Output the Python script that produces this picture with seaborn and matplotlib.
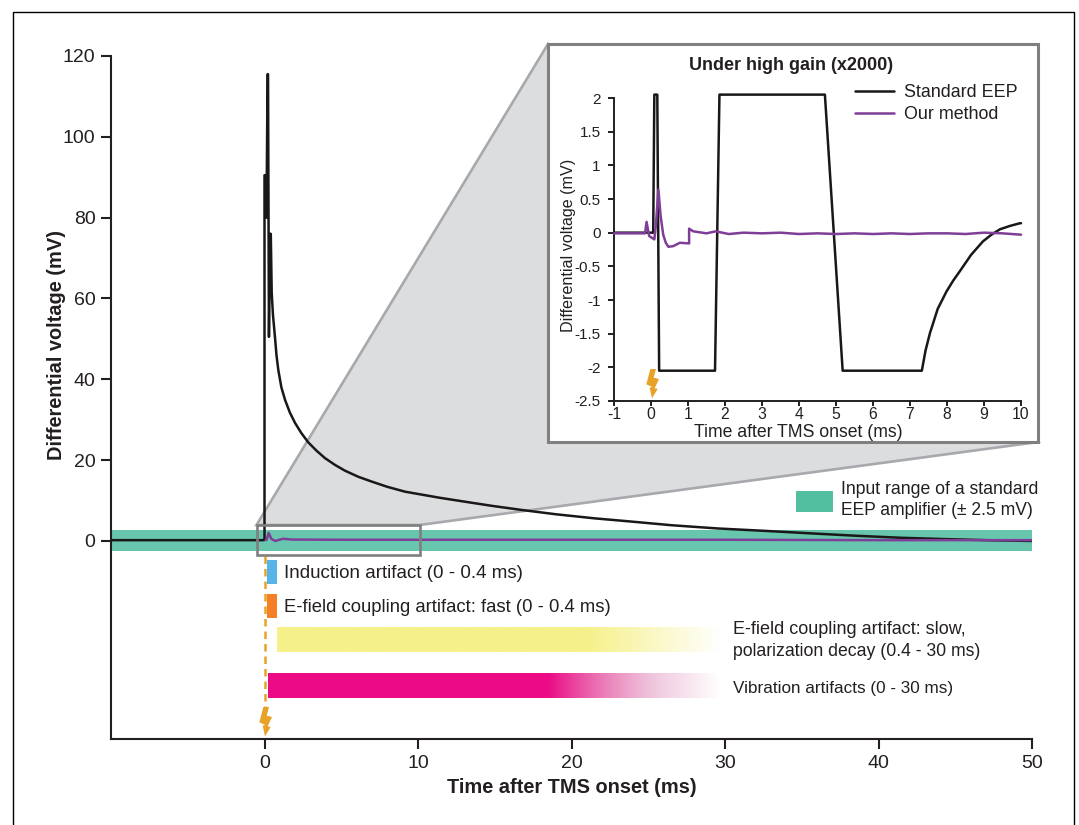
import numpy as np
import matplotlib
matplotlib.use("Agg")
import matplotlib.pyplot as plt
from matplotlib.patches import Polygon, Rectangle
from matplotlib.lines import Line2D
from matplotlib.transforms import Affine2D, IdentityTransform
from matplotlib.colors import to_rgb
import seaborn as sns

# ---- data ----
main_std_t = [-10, -0.05, 0.0, 0.0, 0.1, 0.13, 0.2, 0.23, 0.29, 0.36, 0.41, 0.47, 0.55, 0.68, 0.78, 0.9, 1.1, 1.34,
              1.65, 1.99, 2.4, 2.85, 3.4, 3.94, 4.6, 5.24, 6.1, 6.98, 8, 9.15, 10.2, 11.4, 13, 14.8, 16.7, 19, 21.5,
              23.9, 26.5, 29.5, 32.6, 35.5, 38.5, 41.4, 44, 47, 50]
main_std_v = [0.2, 0.2, 0.3, 90.5, 90.5, 80, 115.5, 115.5, 50.5, 76, 76, 61.4, 56, 50.5, 46, 42.3, 38, 34.9,
              31.8, 29.2, 26.7, 24.4, 22.3, 20.5, 18.8, 17.4, 15.9, 14.7, 13.4, 12.2, 11.5, 10.7, 9.75, 8.7, 7.7, 6.6, 5.6,
              4.8, 3.9, 3.1, 2.5, 1.9, 1.3, 0.8, 0.5, 0.2, 0.0]
main_our_t = [0.08, 0.15, 0.27, 0.45, 0.7, 1.2, 1.8, 5, 10, 20, 30, 40, 50]
main_our_v = [0.2, 0.4, 2.0, 0.5, 0.0, 0.55, 0.35, 0.3, 0.3, 0.3, 0.3, 0.2, 0.2]
amp_range = [-2.5, 2.6]

inset_std_t = [-1, 0.06, 0.09, 0.17, 0.22, 1.73, 1.85, 4.7, 5.18, 7.32, 7.42, 7.54, 7.75, 7.99, 8.17, 8.35, 8.65,
               8.97, 9.2, 9.43, 9.7, 9.97, 10]
inset_std_v = [0, 0, 2.05, 2.05, -2.05, -2.05, 2.05, 2.05, -2.05, -2.05, -1.75, -1.49, -1.13, -0.87, -0.71, -0.57, -0.33,
               -0.13, -0.03, 0.05, 0.1, 0.14, 0.14]
inset_our_t = [-1, -0.16, -0.12, -0.05, 0.09, 0.13, 0.2, 0.26, 0.33, 0.4, 0.47, 0.6, 0.78, 1.03, 1.03, 1.14, 1.5, 1.75,
               2.1, 2.5, 3, 3.5, 4, 4.5, 5, 5.5, 6, 6.5, 7, 7.5, 8, 8.5, 9, 9.5, 10]
inset_our_v = [-0.01, -0.01, 0.16, -0.05, -0.1, 0.1, 0.64, 0.25, -0.03, -0.15, -0.21, -0.2, -0.15, -0.16, 0.06, 0.02,
               -0.01, 0.02, -0.02, 0.0, -0.01, 0.0, -0.02, -0.01, -0.02, -0.01, -0.02, -0.01, -0.02, -0.01, -0.01,
               -0.02, 0.0, -0.01, -0.03]

main_xticks = [0, 10, 20, 30, 40, 50]
main_yticks = [0, 20, 40, 60, 80, 100, 120]
inset_xticks = [-1, 0, 1, 2, 3, 4, 5, 6, 7, 8, 9, 10]
inset_yticks = [-2.5, -2, -1.5, -1, -0.5, 0, 0.5, 1, 1.5, 2]
inset_yticklabels = ["-2.5", "-2", "-1.5", "-1", "-0.5", "0", "0.5", "1", "1.5", "2"]

# solid artifact bars: label, start, end (ms), row top / bottom (mV), colour
solid_bars = [("Induction artifact (0 - 0.4 ms)", 0.16, 0.80, -4.7, -10.6, "#56B4E9"),
              ("E-field coupling artifact: fast (0 - 0.4 ms)", 0.16, 0.80, -13.1, -19.0, "#F47F24")]
# fading bars: start, solid-until, end (ms), row top / bottom (mV), colour, colour while fading
fade_bars = [(0.80, 21.0, 29.7, -21.5, -27.5, "#F6F18A", "#F6F18A"),
             (0.22, 18.5, 29.7, -32.7, -38.85, "#EC0A85", "#D86FA8")]

INK = "#231F20"
PURPLE = "#7F3F98"
ORANGE = "#E8A228"
W, H = 1079, 825

sns.set_theme(style="ticks")
plt.rcParams["font.family"] = ["Liberation Sans", "DejaVu Sans"]
plt.rcParams["axes.unicode_minus"] = False
plt.rcParams["text.color"] = INK

fig = plt.figure(figsize=(W / 100, H / 100), dpi=100)
PX = Affine2D().scale(1, -1).translate(0, H)  # layout helper: top-left pixel coordinates


def box(l, t, r, b):
    return [l / W, 1 - b / H, (r - l) / W, (b - t) / H]


# frame open at the bottom
fig.add_artist(Line2D([12.5, 12.5, 1074, 1074], [825, 11.5, 11.5, 825], transform=PX, color="black", lw=1.0))

ax = fig.add_axes(box(111, 56, 1032, 739))
ax.patch.set_alpha(0)
ax.axhspan(amp_range[0], amp_range[1], color="#68C6AE", lw=0, zorder=1)

ax.add_patch(Polygon([(256.5, 525), (548, 44), (1038, 442), (419.5, 525)], closed=True, transform=PX,
                     facecolor="#DCDDDE", edgecolor="#A7A9AC", lw=1.9, zorder=1.5, clip_on=False))

sns.lineplot(x=main_std_t, y=main_std_v, estimator=None, sort=False, color="#1a1718", linewidth=1.8, ax=ax, zorder=3)
sns.lineplot(x=main_our_t, y=main_our_v, estimator=None, sort=False, color=PURPLE, linewidth=1.8, ax=ax, zorder=4)

ax.add_patch(Rectangle((256.5, 525), 163, 30, transform=PX, fill=False, edgecolor="#808080", lw=1.9, zorder=5,
                       clip_on=False))

for label, x0, x1, y0, y1, c in solid_bars:
    ax.add_patch(Rectangle((x0, y1), x1 - x0, y0 - y1, facecolor=c, lw=0, zorder=2))
for x0, x_solid, x1, y0, y1, c, c2 in fade_bars:
    n = 256
    xs = np.linspace(x0, x1, n)
    alpha = np.clip((x1 - xs) / (x1 - x_solid), 0, 1)
    img = np.ones((1, n, 4))
    mix = np.clip((1 - alpha) * 1.6, 0, 1)[..., None]
    img[0, :, :3] = (1 - mix) * np.array(to_rgb(c)) + mix * np.array(to_rgb(c2))
    img[..., 3] = alpha
    ax.imshow(img, extent=(x0, x1, y1, y0), origin="upper", aspect="auto", zorder=2, interpolation="bilinear")

ax.set_xlim(-10, 50)
ax.set_ylim(-49, 120)
ax.set_xticks(main_xticks)
ax.set_yticks(main_yticks)
ax.tick_params(axis="both", length=7.2, width=1.5, color=INK, labelsize=14, labelcolor=INK, pad=4)
sns.despine(ax=ax)
for s in ("left", "bottom"):
    ax.spines[s].set_linewidth(1.5)
    ax.spines[s].set_color(INK)
ax.set_xlabel("Time after TMS onset (ms)", fontsize=14.4, fontweight="bold", color=INK)
ax.set_ylabel("Differential voltage (mV)", fontsize=14.4, fontweight="bold", color=INK)
ax.xaxis.set_label_coords(572, H - 778, transform=IdentityTransform())
ax.yaxis.set_label_coords(66, H - 345, transform=IdentityTransform())

# TMS onset marker
ax.add_line(Line2D([264.5, 264.5], [556, 707], transform=PX, color=ORANGE, lw=1.8, ls=(0, (3, 2)), zorder=2,
                   clip_on=False))
bolt = np.array([(100, 622), (117, 622), (110, 648), (126, 652), (113, 680), (122, 682), (105, 710), (98, 678),
                 (106, 676), (88, 668)], dtype=float)


def add_bolt(a, cx, top, s=1 / 3):
    pts = (bolt - [105, 622]) * s + [cx, top]
    a.add_patch(Polygon(pts, closed=True, transform=PX, facecolor=ORANGE, edgecolor="none", zorder=6, clip_on=False))


add_bolt(ax, 265, 707)

# annotations
ax.add_patch(Rectangle((796, 491), 37, 21, transform=PX, facecolor="#52C0A0", lw=0, zorder=6, clip_on=False))
NOTES = [(841, 489.5, "Input range of a standard", 12.7), (841, 510.5, "EEP amplifier (± 2.5 mV)", 12.65),
         (284, 574, solid_bars[0][0], 13.5), (284, 607, solid_bars[1][0], 13.3),
         (733, 630, "E-field coupling artifact: slow,", 13.0), (733, 651, "polarization decay (0.4 - 30 ms)", 12.7),
         (733, 688, "Vibration artifacts (0 - 30 ms)", 12.3)]
for x, y, s, fs in NOTES:
    ax.text(x, y, s, transform=PX, fontsize=fs, va="center", ha="left", color=INK, zorder=7, clip_on=False)

# inset panel
fig.add_artist(Rectangle((548, 44), 490, 398, transform=PX, facecolor="white", edgecolor="#808080", lw=2.2, zorder=1))
axi = fig.add_axes(box(614, 98, 1021, 401), zorder=2)
axi.patch.set_alpha(0)
sns.lineplot(x=inset_std_t, y=inset_std_v, estimator=None, sort=False, color="#1a1718", linewidth=1.8, ax=axi,
             label="Standard EEP", zorder=3, clip_on=False)
sns.lineplot(x=inset_our_t, y=inset_our_v, estimator=None, sort=False, color=PURPLE, linewidth=1.8, ax=axi,
             label="Our method", zorder=4, clip_on=False)
axi.set_xlim(-1, 10)
axi.set_ylim(-2.5, 2)
axi.set_xticks(inset_xticks)
axi.set_yticks(inset_yticks)
axi.set_yticklabels(inset_yticklabels)
axi.tick_params(axis="x", length=3.5, width=1.4, color=INK, labelsize=11.3, labelcolor=INK, pad=0.5)
axi.tick_params(axis="y", length=4.5, width=1.4, color=INK, labelsize=11, labelcolor=INK, pad=5)
sns.despine(ax=axi)
for s in ("left", "bottom"):
    axi.spines[s].set_linewidth(1.4)
    axi.spines[s].set_color(INK)
axi.set_xlabel("Time after TMS onset (ms)", fontsize=12.7, color=INK)
axi.set_ylabel("Differential voltage (mV)", fontsize=11.6, color=INK)
axi.xaxis.set_label_coords(798, H - 424, transform=IdentityTransform())
axi.yaxis.set_label_coords(576, H - 245, transform=IdentityTransform())
fig.text(791.5 / W, 1 - 65.5 / H, "Under high gain (x2000)", fontsize=12.95, fontweight="bold", ha="center",
         va="center", color=INK, zorder=5)
leg = axi.legend(loc="upper left", bbox_to_anchor=(855, H - 84), bbox_transform=IdentityTransform(),
                 frameon=False, fontsize=12.9, handlelength=2.2, handletextpad=0.55, labelspacing=0.3,
                 borderaxespad=0, borderpad=0, labelcolor=INK)
add_bolt(axi, 652, 369)

fig.savefig("out.png", dpi=100)
